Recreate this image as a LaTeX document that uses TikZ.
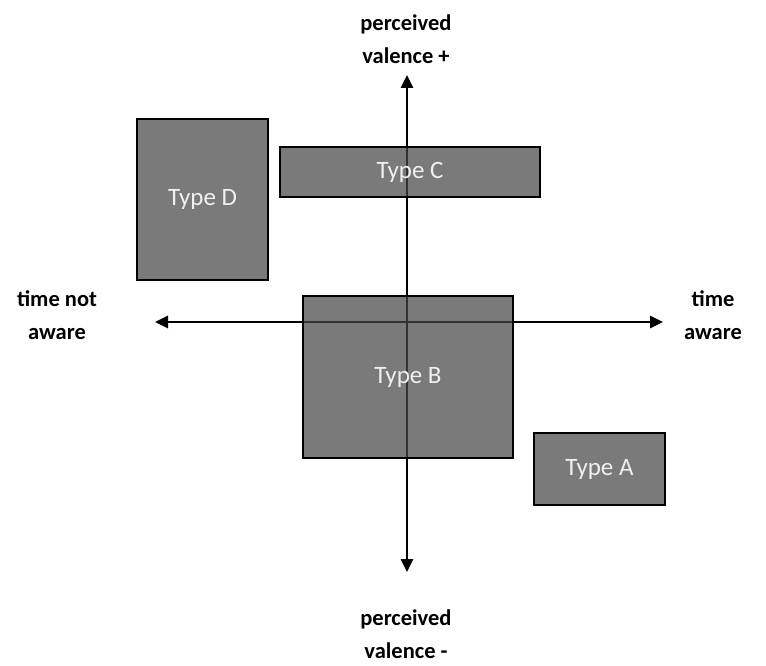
\documentclass[tikz,border=0pt]{standalone}
\usepackage{fontspec}
\setmainfont{Carlito}
\usetikzlibrary{arrows.meta}
\begin{document}
\begin{tikzpicture}[x=1pt,y=-1pt,
  axisline/.style={line width=2.8pt,-{Triangle[length=13pt,width=12pt]}},
  typebox/.style={draw=black, line width=2pt,
    fill={rgb,255:red,70;green,70;blue,70}, fill opacity=0.72, text opacity=1,
    text={rgb,255:red,240;green,240;blue,240},
    font=\fontsize{25}{28}\selectfont, inner sep=0pt, anchor=north west},
  lbl/.style={font=\bfseries\fontsize{22.5}{33}\selectfont, align=center, text=black}]
\useasboundingbox (0,0) rectangle (766,666);
% axes
\coordinate (top) at (407,75);
\coordinate (bottom) at (407,572);
\coordinate (left) at (155,322);
\coordinate (right) at (663,322);
\coordinate (vstart) at (407,322);
\draw[axisline] (vstart) -- (top);
\draw[axisline] (vstart) -- (bottom);
\draw[axisline] (vstart) -- (left);
\draw[axisline] (vstart) -- (right);
% boxes
\node[typebox, minimum width=131pt, minimum height=161pt] (D) at (136,118) {Type D};
\node[typebox, minimum width=260pt, minimum height=50pt] (C) at (279,146) {Type C};
\node[typebox, minimum width=210pt, minimum height=162pt] (B) at (302,295) {Type B};
\node[typebox, minimum width=131pt, minimum height=72pt] (A) at (533,432) {Type A};
% labels
\node[lbl] (ltop) at (406,39) {perceived\\valence +};
\node[lbl] (lbottom) at (406,634) {perceived\\valence -};
\node[lbl] (lleft) at (57,315) {time not\\aware};
\node[lbl] (lright) at (713,315) {time\\aware};
\end{tikzpicture}
\end{document}
